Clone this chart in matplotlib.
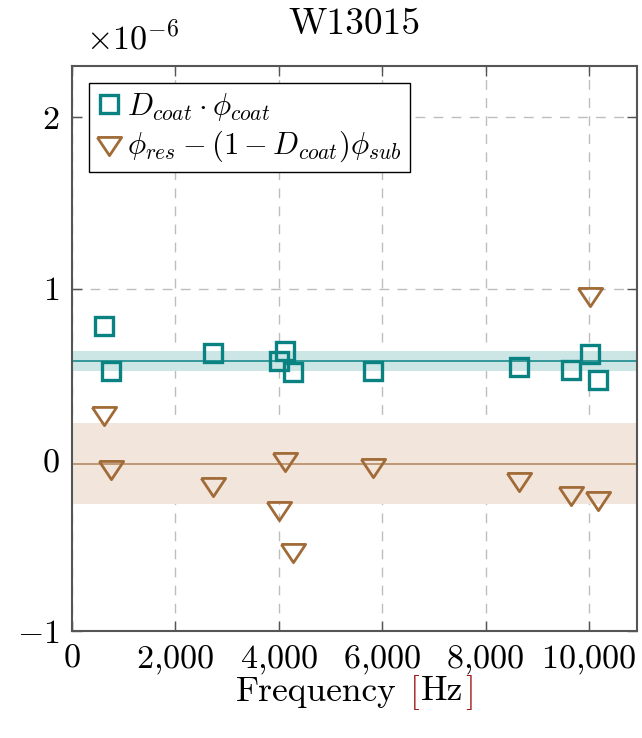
import matplotlib
matplotlib.use("Agg")
import matplotlib.pyplot as plt
from matplotlib.offsetbox import AnchoredOffsetbox, HPacker, TextArea
from matplotlib.ticker import FuncFormatter, MultipleLocator

plt.rcParams.update({
    "font.family": "serif",
    "font.serif": ["cmr10"],
    "mathtext.fontset": "cm",
    "axes.unicode_minus": False,
    "axes.formatter.use_mathtext": True,
})

# ---- W13015 loss angles, in units of 1e-6 -----------------------------------
FREQ = [615, 756, 2718, 4128, 4006, 4276, 5827, 8654, 9648, 10013, 10167]
COAT = [0.784, 0.520, 0.626, 0.637, 0.579, 0.510, 0.516, 0.540, 0.525,
        0.620, 0.466]
RES = [0.275, -0.043, -0.141, 0.005, -0.283, -0.524, -0.029, -0.114,
       -0.195, 0.969, -0.226]

# weighted means and their uncertainty bands
COAT_MEAN, COAT_ERR = 0.577, 0.057
RES_MEAN, RES_ERR = -0.023, 0.235

TEAL = "#0a8282"
BROWN = "#a16b38"
TEAL_BAND = "#cce6e6"
BROWN_BAND = "#f2e5db"

# flat downward triangle (pgfplots style), origin at the centroid
TRI = [(-1, 0.5), (1, 0.5), (0, -1), (-1, 0.5)]

fig = plt.figure(figsize=(6.42, 7.38), dpi=100)
ax = fig.add_axes([72 / 642, 1 - 631 / 738, 565 / 642, 565 / 738])

ax.axhspan(COAT_MEAN - COAT_ERR, COAT_MEAN + COAT_ERR, color=TEAL_BAND,
           lw=0, zorder=1)
ax.axhspan(RES_MEAN - RES_ERR, RES_MEAN + RES_ERR, color=BROWN_BAND,
           lw=0, zorder=1)
ax.axhline(COAT_MEAN, color=TEAL, lw=1.1, zorder=2)
ax.axhline(RES_MEAN, color=BROWN, lw=1.1, alpha=0.8, zorder=2)

ax.plot(FREQ, COAT, "s", ms=12.8, mfc="none", mec=TEAL, mew=2.4,
        zorder=4, label=r"$D_{coat}\cdot\phi_{coat}$")
ax.plot(FREQ, RES, marker=TRI, ls="none", ms=17.5, mfc="none", mec=BROWN,
        mew=2.0, zorder=4, label=r"$\phi_{res}-(1-D_{coat})\phi_{sub}$")

ax.set_xlim(0, 10930)
ax.set_ylim(-1, 2.3)
ax.xaxis.set_major_locator(MultipleLocator(2000))
ax.yaxis.set_major_locator(MultipleLocator(1))
ax.xaxis.set_major_formatter(
    FuncFormatter(lambda v, p: "$" + f"{v:,.0f}".replace(",", "{,}") + "$"))
ax.yaxis.set_major_formatter(FuncFormatter(lambda v, p: f"${v:.0f}$"))

ax.grid(True, color="#bdbdbd", ls=(0, (7, 6)), lw=1.0, zorder=0)
ax.set_axisbelow(True)
ax.tick_params(direction="in", length=7, width=1.0, color="#555555",
               labelsize=24.5, top=True, right=True, pad=9)
for s in ax.spines.values():
    s.set_color("#555555")
    s.set_linewidth(1.5)
    s.set_zorder(5)

ax.set_title("W13015", fontsize=27, pad=23)
fig.text(86 / 642, 1 - 37 / 738, r"$\times10^{-6}$", fontsize=24.5,
         ha="left", va="center")

# axis label with the unit brackets in red
parts = [("Frequency", "black"), ("[", "#a01818"), ("Hz", "black"),
         ("]", "#a01818")]
gaps = [10, 1, 1]
items = [TextArea(t, textprops=dict(color=c, fontsize=25.5)) for t, c in parts]
row = [items[0]]
for g, it in zip(gaps, items[1:]):
    row += [HPacker(children=[], sep=0, pad=g / 2), it]
label_box = HPacker(children=row, sep=0, pad=0, align="baseline")
anchored = AnchoredOffsetbox(loc="center", child=label_box, frameon=False,
                             pad=0, borderpad=0,
                             bbox_to_anchor=(355 / 642, 1 - 692 / 738),
                             bbox_transform=fig.transFigure)
fig.add_artist(anchored)

leg = ax.legend(loc="upper left", bbox_to_anchor=(0.03, 0.97), fontsize=22,
                fancybox=False, edgecolor="black", framealpha=1,
                handlelength=0.8, handletextpad=0.2, borderpad=0.25,
                labelspacing=0.2, borderaxespad=0)
leg.get_frame().set_linewidth(1.0)

fig.savefig("out.png", dpi=100)
